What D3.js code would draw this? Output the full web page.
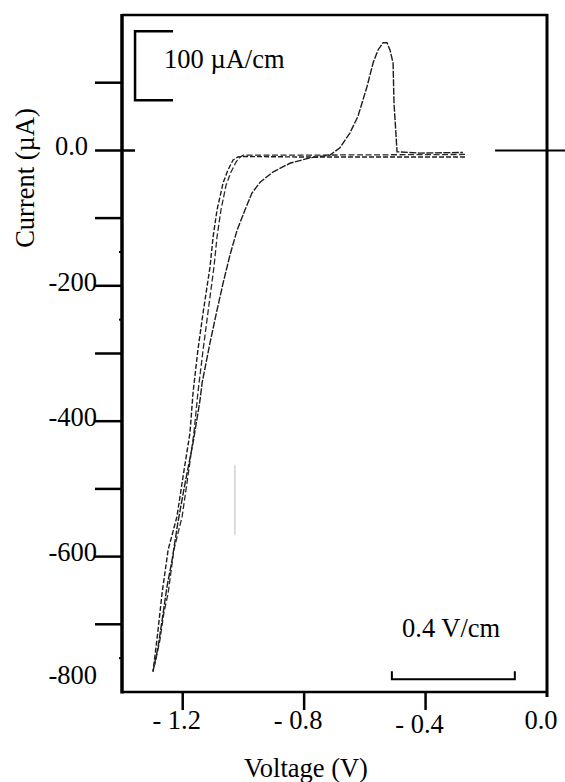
<!DOCTYPE html>
<html>
<head>
<meta charset="utf-8">
<script src="https://cdn.jsdelivr.net/npm/d3@7"></script>
<style>
  html, body { margin: 0; padding: 0; background: #fff; }
  svg { display: block; }
</style>
</head>
<body>
<svg id="chart" width="565" height="782"></svg>
<script>
// ---------- data ----------
// cathodic (forward) sweep, cycle 1
const forwardV1 = [-0.270, -0.814, -0.995, -1.018, -1.034, -1.051, -1.067, -1.087, -1.100, -1.110, -1.133, -1.150, -1.166, -1.176, -1.199, -1.219, -1.248, -1.268, -1.275, -1.285, -1.298];
const forwardI1 = [-9.7, -9.7, -9, -9.7, -14, -29, -48, -88, -128, -172, -240, -295, -358, -417, -482, -541, -590, -654, -683, -723, -770];
// cathodic (forward) sweep, cycle 2
const forwardV2 = [-0.270, -0.814, -1.001, -1.011, -1.024, -1.041, -1.057, -1.074, -1.087, -1.097, -1.117, -1.133, -1.150, -1.163, -1.183, -1.202, -1.229, -1.248, -1.262, -1.275, -1.292];
const forwardI2 = [-6, -7, -7, -10, -17, -32, -51, -88, -128, -172, -240, -295, -358, -417, -482, -541, -590, -654, -683, -723, -760];
// reverse (anodic) sweep with stripping peak
const reverseV = [-1.298, -1.281, -1.268, -1.252, -1.235, -1.216, -1.192, -1.166, -1.143, -1.136, -1.110, -1.087, -1.067, -1.044, -1.021, -0.995, -0.972, -0.945, -0.903, -0.847, -0.781, -0.715, -0.682, -0.649, -0.623, -0.593, -0.573, -0.557, -0.540, -0.527, -0.517, -0.507, -0.504, -0.497, -0.494, -0.418, -0.277];
const reverseI = [-770, -733, -694, -645, -605, -550, -491, -432, -369, -343, -284, -236, -196, -154, -118, -88, -63, -47, -32, -19, -11, -7, 4, 26, 50, 94, 129, 148, 159, 159, 148, 129, 70, 20, -2, -4, -3];

// axis ticks
const yMajorTicks = [100, 0, -100, -200, -300, -400, -500, -600, -700];
const yMinorTicks = [-150, -250, -750];
const yTickLabels = [
  { v: 0, t: "0.0" }, { v: -200, t: "-200" }, { v: -400, t: "-400" },
  { v: -600, t: "-600" }, { v: -800, t: "-800" }
];
const xTicks = [-1.2, -0.8, -0.4];
const xTickLabels = [
  { v: -1.2, t: "- 1.2" }, { v: -0.8, t: "- 0.8" }, { v: -0.4, t: "- 0.4" }, { v: 0.0, t: "0.0" }
];
// scale bars (value spans)
const currentBar = { v0: -1.357, v1: -1.232, i0: 74, i1: 176, label: "100 µA/cm" };
const voltageBar = { v0: -0.511, v1: -0.106, i: -781, label: "0.4 V/cm" };

const FONT = "'Liberation Serif', 'Times New Roman', Times, serif";
const FS = 26.5;

// ---------- scales ----------
const svg = d3.select("#chart").attr("font-family", FONT);
const L = 122, R = 547, T = 15, B = 692;
const x = d3.scaleLinear().domain([-1.4, 0]).range([L, R]);
const y = d3.scaleLinear().domain([-800, 200]).range([B, T]);

// ---------- curves ----------
const line = d3.line().x(d => x(d[0])).y(d => y(d[1]));
function pts(vs, is) { return vs.map((v, k) => [v, is[k]]); }

svg.append("path").attr("d", line(pts(forwardV1, forwardI1)))
  .attr("fill", "none").attr("stroke", "#1c1c1c").attr("stroke-width", 1.4)
  .attr("stroke-dasharray", "5,2");
svg.append("path").attr("d", line(pts(forwardV2, forwardI2)))
  .attr("fill", "none").attr("stroke", "#2a2a2a").attr("stroke-width", 1.3)
  .attr("stroke-dasharray", "6,2.5");
svg.append("path").attr("d", line(pts(reverseV, reverseI)))
  .attr("fill", "none").attr("stroke", "#1c1c1c").attr("stroke-width", 1.4)
  .attr("stroke-dasharray", "7,1.5");

// faint scan artifact
svg.append("line").attr("x1", x(-1.028)).attr("x2", x(-1.028))
  .attr("y1", y(-465)).attr("y2", y(-568))
  .attr("stroke", "#bbb").attr("stroke-width", 1);

// ---------- frame ----------
svg.append("line").attr("x1", L).attr("x2", L).attr("y1", T - 1).attr("y2", B + 1.5)
  .attr("stroke", "#000").attr("stroke-width", 3.5);
svg.append("line").attr("x1", L).attr("x2", R + 1).attr("y1", T).attr("y2", T)
  .attr("stroke", "#000").attr("stroke-width", 2.5);
svg.append("line").attr("x1", R).attr("x2", R).attr("y1", T - 1).attr("y2", B + 5)
  .attr("stroke", "#000").attr("stroke-width", 3);
svg.append("line").attr("x1", L).attr("x2", R).attr("y1", B).attr("y2", B)
  .attr("stroke", "#000").attr("stroke-width", 2.5);

// zero line stub to the right
svg.append("line").attr("x1", x(-0.171)).attr("x2", 565)
  .attr("y1", y(0)).attr("y2", y(0))
  .attr("stroke", "#000").attr("stroke-width", 2);

// ---------- y axis ticks ----------
svg.selectAll(".ytick").data(yMajorTicks).enter().append("line")
  .attr("x1", L - 27).attr("x2", d => d === 0 ? L + 13 : L)
  .attr("y1", d => y(d)).attr("y2", d => y(d))
  .attr("stroke", "#000").attr("stroke-width", 2.5);
svg.selectAll(".yminor").data(yMinorTicks).enter().append("line")
  .attr("x1", L - 3).attr("x2", L)
  .attr("y1", d => y(d)).attr("y2", d => y(d))
  .attr("stroke", "#000").attr("stroke-width", 2);
svg.selectAll(".ylab").data(yTickLabels).enter().append("text")
  .attr("x", d => d.v === 0 ? 88 : 97)
  .attr("y", d => d.v === -800 ? y(d.v) - 17 : y(d.v) - 4)
  .attr("dy", "0.33em")
  .attr("text-anchor", "end")
  .attr("font-family", FONT)
  .attr("font-size", FS)
  .text(d => d.t);

// ---------- x axis ticks ----------
svg.selectAll(".xtick").data(xTicks).enter().append("line")
  .attr("x1", d => x(d)).attr("x2", d => x(d))
  .attr("y1", B).attr("y2", B + 18)
  .attr("stroke", "#000").attr("stroke-width", 2.5);
svg.selectAll(".xlab").data(xTickLabels).enter().append("text")
  .attr("x", d => x(d.v) - 6)
  .attr("y", d => d.v === -0.4 ? 733 : 729)
  .attr("text-anchor", "middle")
  .attr("font-family", FONT)
  .attr("font-size", FS)
  .text(d => d.t);

// ---------- axis titles ----------
svg.append("text").attr("x", 306).attr("y", 777)
  .attr("text-anchor", "middle").attr("font-size", FS).attr("font-family", FONT)
  .text("Voltage (V)");
svg.append("text")
  .attr("transform", "translate(34,178) rotate(-90)")
  .attr("text-anchor", "middle").attr("font-size", FS).attr("font-family", FONT)
  .text("Current (µA)");

// ---------- scale bars ----------
const cb = svg.append("g");
cb.append("path")
  .attr("d", `M${x(currentBar.v1)},${y(currentBar.i1)} H${x(currentBar.v0)} V${y(currentBar.i0)} H${x(currentBar.v1)}`)
  .attr("fill", "none").attr("stroke", "#000").attr("stroke-width", 2.5);
cb.append("text").attr("x", 164).attr("y", 68).attr("font-family", FONT)
  .attr("font-size", FS).text(currentBar.label);

const vb = svg.append("g");
vb.append("path")
  .attr("d", `M${x(voltageBar.v0)},${y(voltageBar.i) - 8} V${y(voltageBar.i)} H${x(voltageBar.v1)} V${y(voltageBar.i) - 8}`)
  .attr("fill", "none").attr("stroke", "#000").attr("stroke-width", 2);
vb.append("text").attr("x", 402).attr("y", 637).attr("font-family", FONT)
  .attr("font-size", FS).text(voltageBar.label);
</script>
</body>
</html>
